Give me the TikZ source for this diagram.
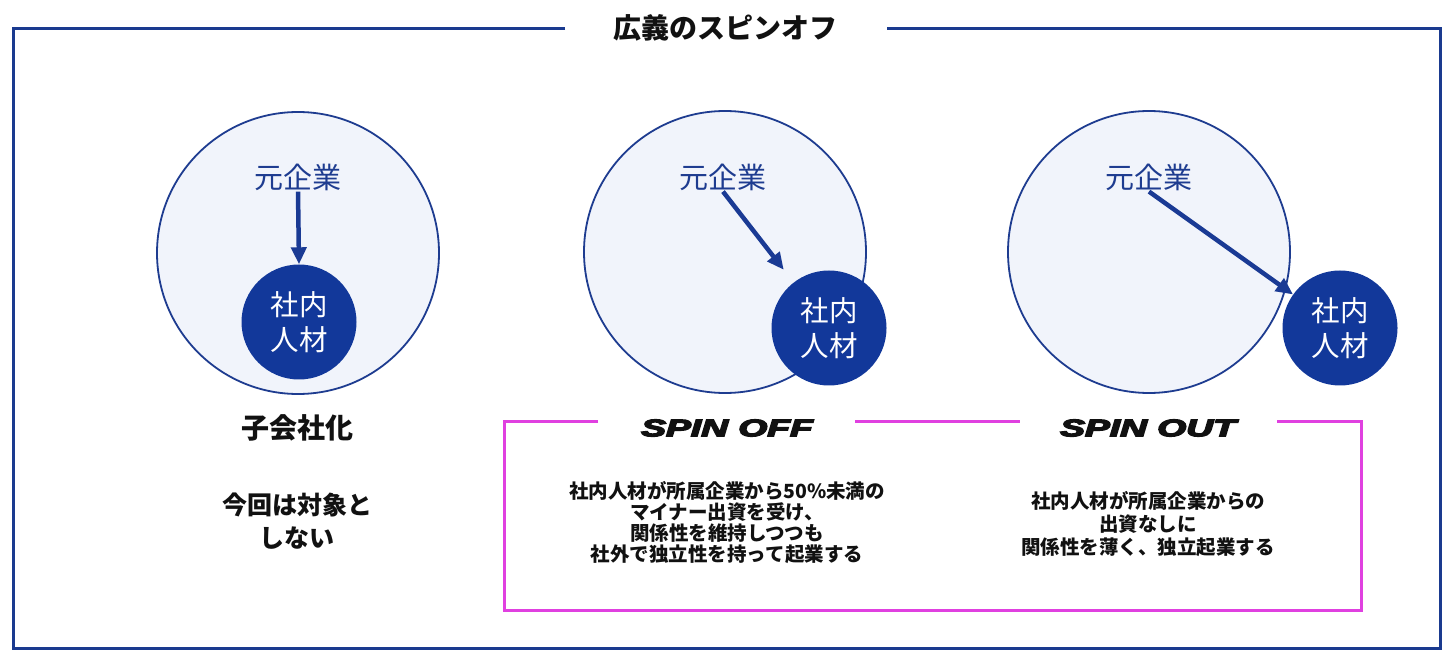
\documentclass[tikz,border=0pt]{standalone}
\usepackage{fontspec}
\usepackage{graphicx}
\setmainfont{Noto Sans CJK JP}
\newfontfamily\spinfont{Liberation Sans}[BoldItalicFeatures={FakeBold=5}]
\usetikzlibrary{arrows.meta}
\definecolor{frameblue}{HTML}{1A3A8F}
\definecolor{circblue}{HTML}{1E3C90}
\definecolor{circfill}{HTML}{F1F4FB}
\definecolor{talent}{HTML}{12389A}
\definecolor{arrowblue}{HTML}{1A3A94}
\definecolor{magline}{HTML}{E040E0}
\definecolor{ink}{HTML}{111111}
\begin{document}
\begin{tikzpicture}[x=1pt,y=-1pt,
  bigc/.style={circle, draw=circblue, line width=1.8pt, fill=circfill, minimum size=282pt, inner sep=0pt},
  smallc/.style={circle, fill=talent, minimum size=115pt, inner sep=0pt, text=white, align=center, font=\fontsize{28.5}{35}\selectfont},
  orig/.style={text=circblue, font=\fontsize{29}{32}\selectfont, inner sep=0pt},
  arr/.style={-{Triangle[length=17pt,width=15pt]}, line width=4.5pt, draw=arrowblue},
  framel/.style={draw=frameblue, line width=3pt},
  magl/.style={draw=magline, line width=3pt},
  headtxt/.style={text=ink, font=\bfseries\fontsize{28}{32}\selectfont, inner sep=0pt},
  spintxt/.style={text=ink, font=\spinfont\bfseries\itshape\fontsize{24}{28}\selectfont, inner sep=0pt},
  desctxt/.style={text=ink, align=center, inner sep=0pt}
]
\fill[white] (0,0) rectangle (1452,660);
\useasboundingbox (0,0) rectangle (1452,660);
% outer frame
\draw[framel] (565,29) -- (13,29) -- (13,648) -- (1440,648) -- (1440,29) -- (887,29);
\node[headtxt] (title) at (725,28) {広義のスピンオフ};
% circle 1
\node[bigc] (b1) at (298,253) {};
\node[smallc] (s1) at (299,322) {社内\\人材};
\node[orig] (a1) at (298,177) {元企業};
\draw[arr] ([yshift=-1pt]a1.south) -- (s1.north);
% circle 2
\node[bigc] (b2) at (725,252) {};
\node[smallc] (s2) at (829,328) {社内\\人材};
\node[orig] (a2) at (723,177) {元企業};
\draw[arr, shorten >=16pt] ([yshift=-1pt]a2.south) -- (s2);
% circle 3
\node[bigc] (b3) at (1149,252) {};
\node[smallc] (s3) at (1340,328) {社内\\人材};
\node[orig] (a3) at (1149,177) {元企業};
\draw[arr] ([yshift=-1pt]a3.south) -- (s3);
% left labels
\node[headtxt, font=\bfseries\fontsize{28}{32}\selectfont] (l1) at (297,428) {子会社化};
\node[desctxt, font=\bfseries\fontsize{25}{33}\selectfont] (l2) at (297,521) {今回は対象と\\しない};
% magenta box
\draw[magl] (598,421) -- (504,421) -- (504,610) -- (1361,610) -- (1361,421) -- (1277,421);
\draw[magl] (855,421) -- (1020,421);
\node[spintxt] (so) at (727,428) {\scalebox{1.55}[1]{SPIN OFF}};
\node[spintxt] (su) at (1148,428) {\scalebox{1.55}[1]{SPIN OUT}};
\node[desctxt, font=\bfseries\fontsize{19.5}{21}\selectfont] (d1) at (727,523) {社内人材が所属企業から50\%未満の\\マイナー出資を受け、\\関係性を維持しつつも\\社外で独立性を持って起業する};
\node[desctxt, font=\bfseries\fontsize{19.5}{23}\selectfont] (d2) at (1148,524) {社内人材が所属企業からの\\出資なしに\\関係性を薄く、独立起業する};
\end{tikzpicture}
\end{document}
